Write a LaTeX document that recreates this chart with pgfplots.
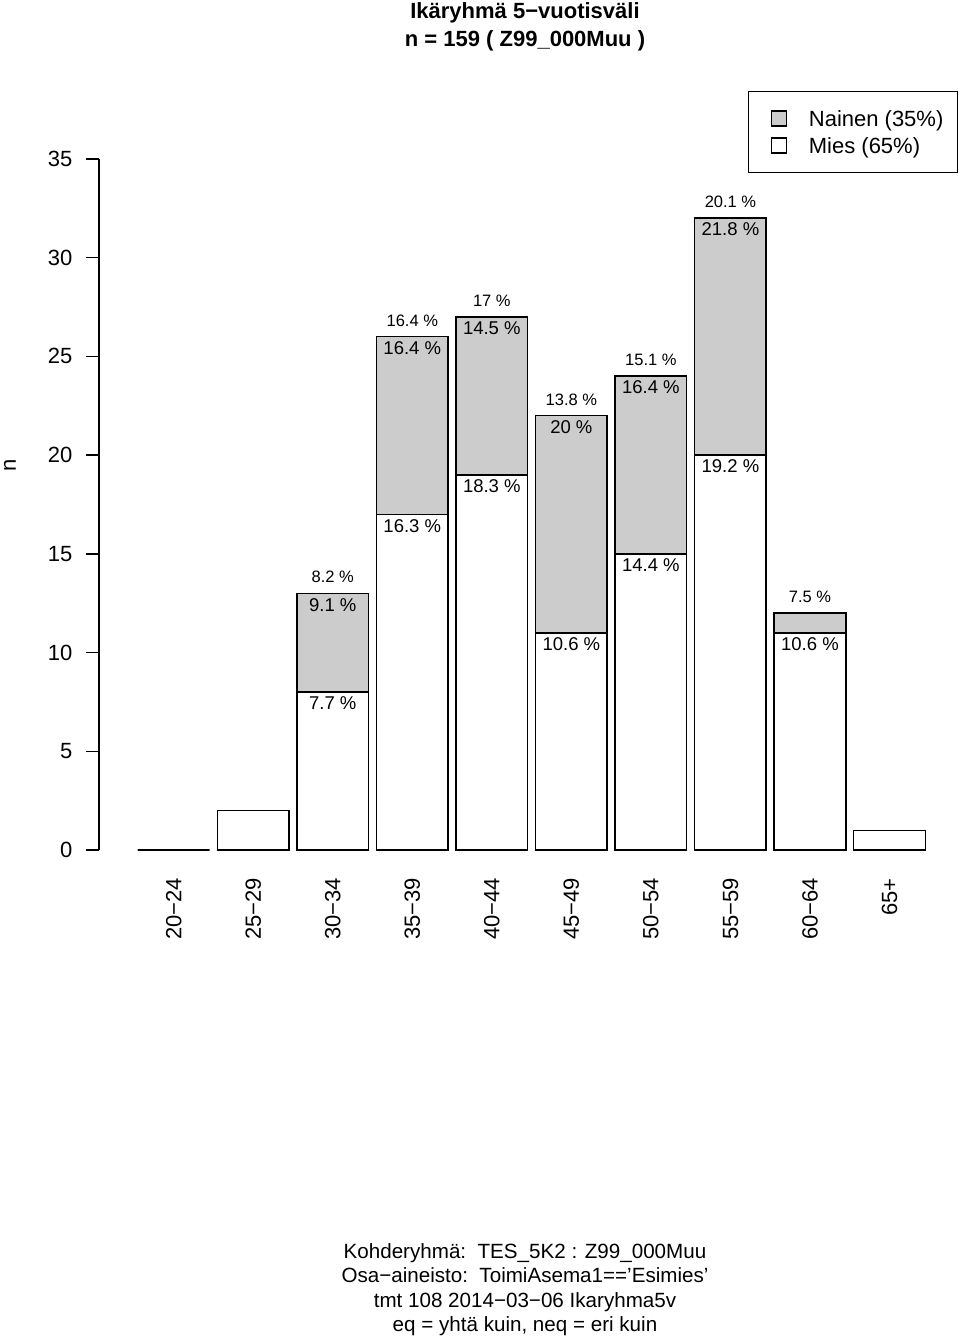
\documentclass[border=0pt]{standalone}
\usepackage{fontspec}
\setmainfont{Liberation Sans}
\usepackage{pgfplots}
\usepackage{pgfplotstable}
\pgfplotsset{compat=1.18}

% mies = men (white), nainen = women (grey), tot = mies + nainen
\pgfplotstableread{
x mies mlab       nainen nlab       tot tlab
0 0    {}         0      {}         0   {}
1 2    {}         0      {}         2   {}
2 8    {7.7 \%}   5      {9.1 \%}   13  {8.2 \%}
3 17   {16.3 \%}  9      {16.4 \%}  26  {16.4 \%}
4 19   {18.3 \%}  8      {14.5 \%}  27  {17 \%}
5 11   {10.6 \%}  11     {20 \%}    22  {13.8 \%}
6 15   {14.4 \%}  9      {16.4 \%}  24  {15.1 \%}
7 20   {19.2 \%}  12     {21.8 \%}  32  {20.1 \%}
8 11   {10.6 \%}  1      {}         12  {7.5 \%}
9 1    {}         0      {}         1   {}
}\agedata

\begin{document}
\begin{tikzpicture}
\useasboundingbox (0pt,0pt) rectangle (960pt,1338pt);
\begin{axis}[
  at={(99pt,488pt)}, anchor=south west,
  scale only axis, width=841pt, height=691pt,
  xmin=-0.939, xmax=9.635, ymin=0, ymax=35,
  clip=false,
  axis x line=bottom, axis y line=left,
  x axis line style={draw=none},
  y axis line style={-, line width=1.3pt},
  ytick={0,5,...,35},
  xtick={0,1,...,9},
  xticklabels={20−24,25−29,30−34,35−39,40−44,45−49,50−54,55−59,60−64,65+},
  tick align=outside,
  major tick length=13pt,
  ytick style={line width=1.3pt, black},
  xtick style={draw=none},
  /pgf/number format/assume math mode=true,
  yticklabel style={font=\fontsize{22}{26}\selectfont, inner sep=0pt, anchor=east, xshift=-13.5pt},
  xticklabel style={font=\fontsize{22}{26}\selectfont, rotate=90, anchor=east, inner sep=0pt},
  xticklabel shift=15pt,
  ylabel={n},
  every axis y label/.style={at={(axis description cs:-0.1058,0.557)}, rotate=90, anchor=center, font=\fontsize{22}{26}\selectfont},
  ybar, bar width=0.9,
  legend image code/.code={\path (-8pt,0pt); \draw[#1, line width=1.3pt] (0pt,-7.5pt) rectangle (15pt,7.5pt);},
  legend style={at={(1.0214,1.0984)}, anchor=north east, draw=black, line width=1.2pt,
    font=\fontsize{22}{26}\selectfont, inner xsep=14pt, inner ysep=14pt,
    column sep=22pt, row sep=1pt,
    nodes={inner sep=0pt, text height=21pt, text depth=5pt}},
  legend cell align=left,
]
\addplot[bar shift=0pt, fill=black!20, draw=black, line width=1.5pt,
  nodes near coords, point meta=explicit symbolic,
  nodes near coords style={font=\fontsize{18.5}{22}\selectfont, anchor=north, inner sep=0pt, yshift=-4pt, text=black}]
  table[x=x, y=tot, meta=nlab]{\agedata};
\addlegendentry{Nainen (35\%)}
\addplot[bar shift=0pt, fill=white, draw=black, line width=1.5pt,
  nodes near coords, point meta=explicit symbolic,
  nodes near coords style={font=\fontsize{18.5}{22}\selectfont, anchor=north, inner sep=0pt, yshift=-4pt, text=black}]
  table[x=x, y=mies, meta=mlab]{\agedata};
\addlegendentry{Mies (65\%)}
\addplot[bar shift=0pt, draw=none, fill=none, forget plot,
  nodes near coords, point meta=explicit symbolic,
  nodes near coords style={font=\fontsize{16.5}{20}\selectfont, anchor=south, inner sep=0pt, yshift=10pt, text=black}]
  table[x=x, y=tot, meta=tlab]{\agedata};
\end{axis}
\node[anchor=north, align=center, inner sep=0pt, font=\bfseries\fontsize{22}{27.4}\selectfont] at (525pt,1335.4pt) {Ikäryhmä 5−vuotisväli\\n = 159 ( Z99\_000Muu )};
\node[anchor=north, align=center, inner sep=0pt, font=\fontsize{20.6}{24.5}\selectfont] at (525pt,95pt) {Kohderyhmä:\ \ TES\_5K2 : Z99\_000Muu\\Osa−aineisto:\ \ ToimiAsema1==’Esimies’\\tmt 108 2014−03−06 Ikaryhma5v\\eq = yhtä kuin, neq = eri kuin};
\end{tikzpicture}
\end{document}
